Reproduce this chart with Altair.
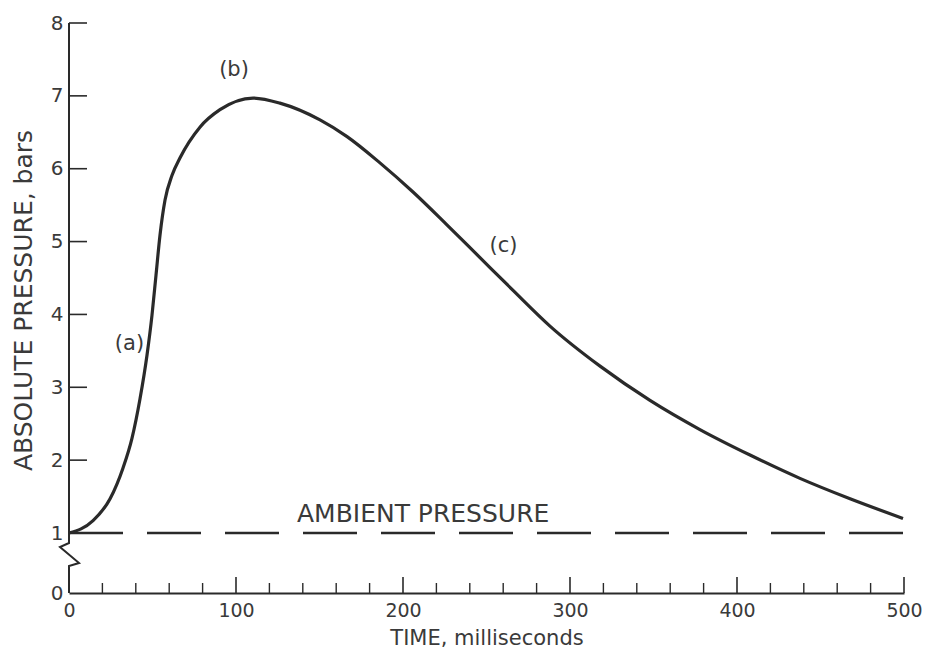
import altair as alt
import pandas as pd

# ---- data ----
time_ms = [0, 14.4, 24.6, 32.3, 37.7, 42.5, 46.7, 49.7, 52.1, 54.5, 57.5, 61.7, 66.5, 78.4,
           90.4, 110.2, 126.3, 150.3, 166.5, 186.2, 206.0, 226.3, 246.1, 265.9, 288.0,
           318.0, 347.9, 377.8, 407.8, 437.7, 467.7, 499.4]
pressure = [1.0, 1.17, 1.47, 1.89, 2.30, 2.84, 3.44, 3.99, 4.54, 5.09, 5.57, 5.91, 6.15, 6.57,
            6.81, 6.97, 6.90, 6.67, 6.44, 6.08, 5.68, 5.23, 4.78, 4.33, 3.84,
            3.29, 2.82, 2.42, 2.07, 1.75, 1.47, 1.20]

ambient_time = [0, 502]
ambient_pressure = [1.0, 1.0]

x_tick_labels = [0, 100, 200, 300, 400, 500]
x_major_ticks = [100, 200, 300, 400, 500]
x_minor_ticks = [t for t in range(20, 500, 20) if t % 100 != 0]
y_tick_labels = [0, 1, 2, 3, 4, 5, 6, 7, 8]
y_ticks = [2, 3, 4, 5, 6, 7, 8]

# y-axis line with the break symbol between 0 and 1
axis_x = [0, 0, -5.4, 6.0, 0, 0]
axis_y = [8, 0.833, 0.767, 0.5, 0.45, 0]

labels_text = ["(a)", "(b)", "(c)"]
labels_x = [36.2, 98.8, 260.2]
labels_y = [3.59, 7.36, 4.94]

ambient_label = ["AMBIENT PRESSURE"]
ambient_label_x = [136.5]
ambient_label_y = [1.15]

FONT = "DejaVu Sans"
INK = "#2a2a2a"
TXT = "#3a3a3a"
W, H = 835, 570

xs = alt.Scale(domain=[0, 500], nice=False)
ys = alt.Scale(domain=[0, 1, 8], range=[H, 510, 0], nice=False)

curve_df = pd.DataFrame({"t": time_ms, "p": pressure})
amb_df = pd.DataFrame({"t": ambient_time, "p": ambient_pressure})
axis_df = pd.DataFrame({"t": axis_x, "p": axis_y, "o": list(range(len(axis_x)))})
lab_df = pd.DataFrame({"t": labels_x, "p": labels_y, "txt": labels_text})
amb_lab_df = pd.DataFrame({"t": ambient_label_x, "p": ambient_label_y, "txt": ambient_label})
xmaj_df = pd.DataFrame({"t": x_major_ticks})
xmin_df = pd.DataFrame({"t": x_minor_ticks})
ytick_df = pd.DataFrame({"p": y_ticks})

base_x = alt.X("t:Q", scale=xs,
               axis=alt.Axis(values=x_tick_labels, title="TIME, milliseconds", format="d",
                             grid=False, ticks=False, tickSize=0,
                             domain=True, domainColor=INK, domainWidth=2,
                             labelFont=FONT, labelFontSize=19, labelColor=TXT,
                             labelPadding=8, labelFlush=False,
                             titleFont=FONT, titleFontSize=21, titleFontWeight="normal",
                             titleColor=TXT, titleBaseline="alphabetic", titleY=51))
base_y = alt.Y("p:Q", scale=ys,
               axis=alt.Axis(values=y_tick_labels, title="ABSOLUTE PRESSURE, bars", format="d",
                             grid=False, ticks=False, tickSize=0, domain=False,
                             labelFont=FONT, labelFontSize=20, labelColor=TXT,
                             labelPadding=6,
                             titleFont=FONT, titleFontSize=25, titleFontWeight="normal",
                             titleColor=TXT, titleAngle=270, titleAlign="center",
                             titleBaseline="alphabetic", titleX=-38, titleY=277))

curve = alt.Chart(curve_df).mark_line(color=INK, strokeWidth=3.2, interpolate="monotone").encode(
    x=base_x, y=base_y)

ambient = alt.Chart(amb_df).mark_line(color=INK, strokeWidth=2.6, strokeDash=[54, 24]).encode(
    x=alt.X("t:Q", scale=xs), y=alt.Y("p:Q", scale=ys))

yaxis_line = alt.Chart(axis_df).mark_line(color=INK, strokeWidth=2).encode(
    x=alt.X("t:Q", scale=xs), y=alt.Y("p:Q", scale=ys), order="o:Q")

xmaj = alt.Chart(xmaj_df).mark_rule(color=INK, strokeWidth=1.6).encode(
    x=alt.X("t:Q", scale=xs), y=alt.value(H), y2=alt.value(H - 16))
xmin = alt.Chart(xmin_df).mark_rule(color=INK, strokeWidth=1.4).encode(
    x=alt.X("t:Q", scale=xs), y=alt.value(H), y2=alt.value(H - 10))
yt = alt.Chart(ytick_df).mark_rule(color=INK, strokeWidth=1.6).encode(
    y=alt.Y("p:Q", scale=ys), x=alt.value(0), x2=alt.value(18))

labels = alt.Chart(lab_df).mark_text(font=FONT, fontSize=21, color=TXT,
                                     align="center", baseline="middle").encode(
    x=alt.X("t:Q", scale=xs), y=alt.Y("p:Q", scale=ys), text="txt:N")

amb_label = alt.Chart(amb_lab_df).mark_text(font=FONT, fontSize=25, color=TXT,
                                            align="left", baseline="alphabetic").encode(
    x=alt.X("t:Q", scale=xs), y=alt.Y("p:Q", scale=ys), text="txt:N")

chart = alt.layer(curve, ambient, yaxis_line, xmaj, xmin, yt, labels, amb_label).properties(
    width=W, height=H,
    autosize=alt.AutoSizeParams(type="none"),
    padding={"left": 69, "top": 23, "right": 22, "bottom": 56},
    background="white",
).configure_view(stroke=None)

chart.save("out.html", embed_options={"renderer": "svg", "actions": False})
